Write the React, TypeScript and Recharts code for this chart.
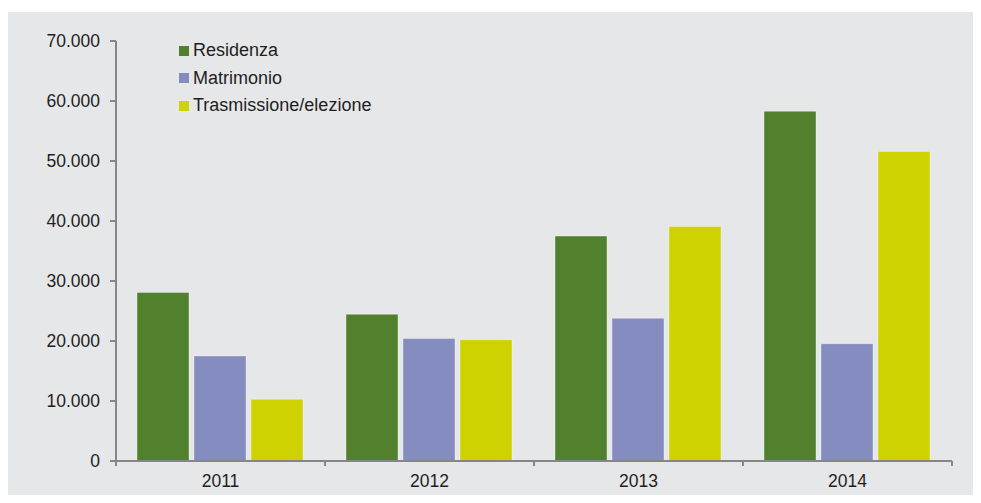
import { Bar, BarChart, XAxis, YAxis } from "recharts";

const years = ["2011", "2012", "2013", "2014"];
const residenza = [28100, 24450, 37500, 58300];
const matrimonio = [17500, 20400, 23800, 19550];
const trasmissione = [10300, 20200, 39100, 51600];
const yTicks = [0, 10000, 20000, 30000, 40000, 50000, 60000, 70000];

const seriesNames = ["Residenza", "Matrimonio", "Trasmissione/elezione"];
const colors = ["#52812e", "#858cbf", "#cdd200"];

const data = years.map((year, i) => ({
	year,
	residenza: residenza[i],
	matrimonio: matrimonio[i],
	trasmissione: trasmissione[i],
}));

const W = 974;
const H = 491;
const margin = { top: 29, right: 29, left: 0, bottom: 0 };
const yAxisWidth = 109;
const band = (W - margin.left - margin.right - yAxisWidth) / years.length;

const fmt = (v: number) => v.toLocaleString("it-IT").replace(/\s/g, ".");

// category labels centred, tick marks on the band edges
const XTick = ({ x, y, payload, index }: any) => (
	<g>
		<line x1={x - band / 2} x2={x - band / 2} y1={y} y2={y + 5} stroke="#868686" strokeWidth={2} />
		{index === years.length - 1 && (
			<line x1={x + band / 2} x2={x + band / 2} y1={y} y2={y + 5} stroke="#868686" strokeWidth={2} />
		)}
		<text x={x} y={y + 20} textAnchor="middle" dominantBaseline="central" fontSize={17.5} fill="#1e1e1e">
			{payload.value}
		</text>
	</g>
);

export default function App() {
	return (
		<div style={{ margin: -8, width: 981, height: 503, background: "#fff", position: "relative", fontFamily: "'Liberation Sans', Arial, sans-serif" }}>
			<div style={{ position: "absolute", left: 7, top: 12, width: W, height: H, background: "#e6e7e9" }}>
				<BarChart width={W} height={H} data={data} margin={margin} barCategoryGap={21} barGap={5}>
					<XAxis
						dataKey="year"
						height={42}
						axisLine={{ stroke: "#868686", strokeWidth: 2 }}
						tickLine={false}
						tickSize={0}
						tickMargin={0}
						tick={<XTick />}
					/>
					<YAxis
						width={yAxisWidth}
						domain={[0, 70000]}
						ticks={yTicks}
						tickFormatter={fmt}
						axisLine={{ stroke: "#868686", strokeWidth: 2 }}
						tickLine={{ stroke: "#868686", strokeWidth: 2 }}
						tickSize={6}
						tickMargin={10}
						tick={{ fontSize: 17.5, fill: "#1e1e1e" }}
					/>
					<Bar dataKey="residenza" name={seriesNames[0]} fill={colors[0]} stroke="#ffffff" strokeOpacity={0.35} isAnimationActive={false} />
					<Bar dataKey="matrimonio" name={seriesNames[1]} fill={colors[1]} stroke="#ffffff" strokeOpacity={0.35} isAnimationActive={false} />
					<Bar dataKey="trasmissione" name={seriesNames[2]} fill={colors[2]} stroke="#ffffff" strokeOpacity={0.35} isAnimationActive={false} />
				</BarChart>
				<div style={{ position: "absolute", left: 172, top: 25 }}>
					{seriesNames.map((name, i) => (
						<div key={name} style={{ display: "flex", alignItems: "center", height: 27.5 }}>
							<span style={{ width: 10, height: 10, background: colors[i], marginRight: 4 }} />
							<span style={{ fontSize: 18, color: "#1e1e1e" }}>{name}</span>
						</div>
					))}
				</div>
			</div>
		</div>
	);
}
